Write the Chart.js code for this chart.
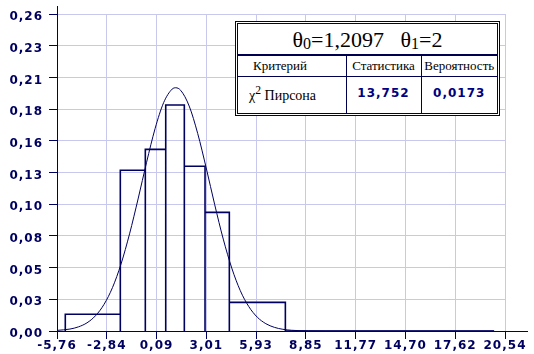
<!DOCTYPE html>
<html>
<head>
<meta charset="utf-8">
<script src="https://cdn.jsdelivr.net/npm/chart.js@4"></script>
<style>
  body { margin: 0; background: #fff; }
  #wrap { position: relative; width: 534px; height: 354px; }
  #stats {
    position: absolute; left: 235px; top: 21px;
    width: 261px; height: 91px;
    border: 1px solid #000050; padding: 1px; background: #fff;
  }
  #stats .inner { border: 1px solid #000050; height: 89px; overflow: hidden; color: #000; }
  #stats .title, #stats td { font-family: "Liberation Serif", "Times New Roman", "DejaVu Serif", serif; }
  #stats .title { height: 30px; line-height: 32px; text-align: center; font-size: 22px; border-bottom: 2px solid #000050; }
  #stats .title sub { font-size: 16px; vertical-align: -2px; line-height: 0; }
  #stats table { width: 259px; border-collapse: collapse; table-layout: fixed; }
  #stats td { font-size: 13px; padding: 0; text-align: center; border-left: 1px solid #000050; box-sizing: border-box; white-space: nowrap; }
  #stats td:first-child { border-left: none; text-align: left; }
  #stats tr.head td { height: 20px; border-bottom: 1px solid #000050; line-height: 18px; }
  #stats tr.head td:first-child { padding-left: 15px; }
  #stats tr.vals td { height: 37px; vertical-align: top; padding-top: 5px; line-height: 18px; font-size: 14px; }
  #stats tr.vals td:first-child { padding-left: 11px; }
  #stats tr.vals td.num { font-family: "DejaVu Sans", sans-serif; font-weight: bold; font-size: 12px; letter-spacing: 1px; color: #000080; padding-top: 7px; }
</style>
</head>
<body>
<div id="wrap">
  <canvas id="histChart" width="534" height="354"></canvas>
  <div id="stats">
    <div class="inner">
      <div class="title" id="stats-title"></div>
      <table>
        <colgroup><col style="width:108px"><col style="width:75px"><col style="width:76px"></colgroup>
        <tr class="head" id="stats-head"></tr>
        <tr class="vals" id="stats-vals"></tr>
      </table>
    </div>
  </div>
</div>
<script>
// axis ranges and tick labels
const xMin = -5.76
const xMax = 20.54
const yMax = 0.26
const xTickLabels = ['-5,76', '-2,84', '0,09', '3,01', '5,93', '8,85', '11,77', '14,70', '17,62', '20,54']
const yTickLabels = ['0,00', '0,03', '0,05', '0,08', '0,10', '0,13', '0,16', '0,18', '0,21', '0,23', '0,26']

// histogram bins (edges) and their heights
const binEdges = [-5.273, -2.043, -0.575, 0.623, 1.715, 2.930, 4.357, 7.646, 19.90]
const binHeights = [0.0137, 0.1318, 0.1490, 0.1854, 0.1351, 0.0973, 0.0235, 0]

// fitted density curve
const curveX = [-5.76, -5, -4.5, -4, -3.5, -3, -2.5, -2, -1.5, -1, -0.5, 0, 0.5, 1, 1.21, 1.5, 2, 2.5, 3, 3.5, 4, 4.5, 5, 5.5, 6, 6.5, 7, 7.5, 8, 9, 10, 12, 16, 19.9]
const curveY = [0.0005, 0.0016, 0.0034, 0.0067, 0.0125, 0.0218, 0.0357, 0.0550, 0.0797, 0.1083, 0.1384, 0.1661, 0.1873, 0.1984, 0.1995, 0.1974, 0.1845, 0.1620, 0.1337, 0.1035, 0.0754, 0.0516, 0.0331, 0.0200, 0.0113, 0.0060, 0.0030, 0.0014, 0.0006, 0.0001, 0, 0, 0, 0]

// table texts
const thetaValues = ['1,2097', '2']
const tableHead = ['Критерий', 'Статистика', 'Вероятность']
const tableRow = ['Пирсона', '13,752', '0,0173']

const navy = '#000060'
const gridColor = '#c8c8ee'

document.getElementById('stats-title').innerHTML =
  'θ<sub>0</sub>=' + thetaValues[0] + '&nbsp;&nbsp;&nbsp;θ<sub>1</sub>=' + thetaValues[1]
document.getElementById('stats-head').innerHTML = tableHead.map(t => '<td>' + t + '</td>').join('')
document.getElementById('stats-vals').innerHTML =
  '<td>χ<sup>2</sup> ' + tableRow[0] + '</td><td class="num">' + tableRow[1] + '</td><td class="num">' + tableRow[2] + '</td>'

// histogram outline as one polyline
const histPoints = [{ x: binEdges[0], y: 0 }]
binHeights.forEach((h, i) => {
  histPoints.push({ x: binEdges[i], y: h }, { x: binEdges[i + 1], y: h }, { x: binEdges[i + 1], y: 0 })
})
const curvePoints = curveX.map((x, i) => ({ x: x, y: curveY[i] }))

const axisExtras = {
  id: 'axisExtras',
  beforeDraw(chart) {
    chart.ctx.letterSpacing = '1px'
  },
  afterDraw(chart) {
    const { ctx, chartArea } = chart
    ctx.save()
    ctx.strokeStyle = navy
    ctx.lineWidth = 1
    ctx.beginPath()
    ctx.moveTo(chartArea.left + 0.5, chartArea.top - 8)
    ctx.lineTo(chartArea.left + 0.5, chartArea.top)
    ctx.moveTo(chartArea.right, chartArea.bottom + 0.5)
    ctx.lineTo(chartArea.right + 23, chartArea.bottom + 0.5)
    ctx.stroke()
    ctx.restore()
  }
}

const tickFont = { family: 'DejaVu Sans', size: 12, weight: 'bold' }

new Chart(document.getElementById('histChart'), {
  type: 'line',
  data: {
    datasets: [{
      data: histPoints,
      borderColor: navy,
      borderWidth: 1.6,
      pointRadius: 0,
      fill: false,
      tension: 0,
      borderJoinStyle: 'miter'
    }, {
      data: curvePoints,
      borderColor: navy,
      borderWidth: 1,
      pointRadius: 0,
      fill: false,
      cubicInterpolationMode: 'monotone'
    }]
  },
  options: {
    responsive: false,
    animation: false,
    layout: { padding: { left: 0, top: 14, right: 29, bottom: 0 } },
    plugins: { legend: { display: false }, tooltip: { enabled: false } },
    scales: {
      x: {
        type: 'linear',
        min: xMin,
        max: xMax,
        afterFit: (scale) => { scale.height = 23 },
        ticks: {
          stepSize: (xMax - xMin) / (xTickLabels.length - 1),
          autoSkip: false,
          maxRotation: 0,
          padding: 0,
          color: navy,
          font: tickFont,
          callback: (v, i) => xTickLabels[i]
        },
        grid: { color: gridColor, tickColor: navy, tickLength: 8 },
        border: { color: navy, width: 1 }
      },
      y: {
        min: 0,
        max: yMax,
        afterFit: (scale) => { scale.width = 57 },
        ticks: {
          stepSize: yMax / (yTickLabels.length - 1),
          autoSkip: false,
          padding: 6,
          labelOffset: 3,
          color: navy,
          font: tickFont,
          callback: (v, i) => yTickLabels[i]
        },
        grid: { color: gridColor, tickColor: navy, tickLength: 8 },
        border: { color: navy, width: 1 }
      }
    }
  },
  plugins: [axisExtras]
})
</script>
</body>
</html>
